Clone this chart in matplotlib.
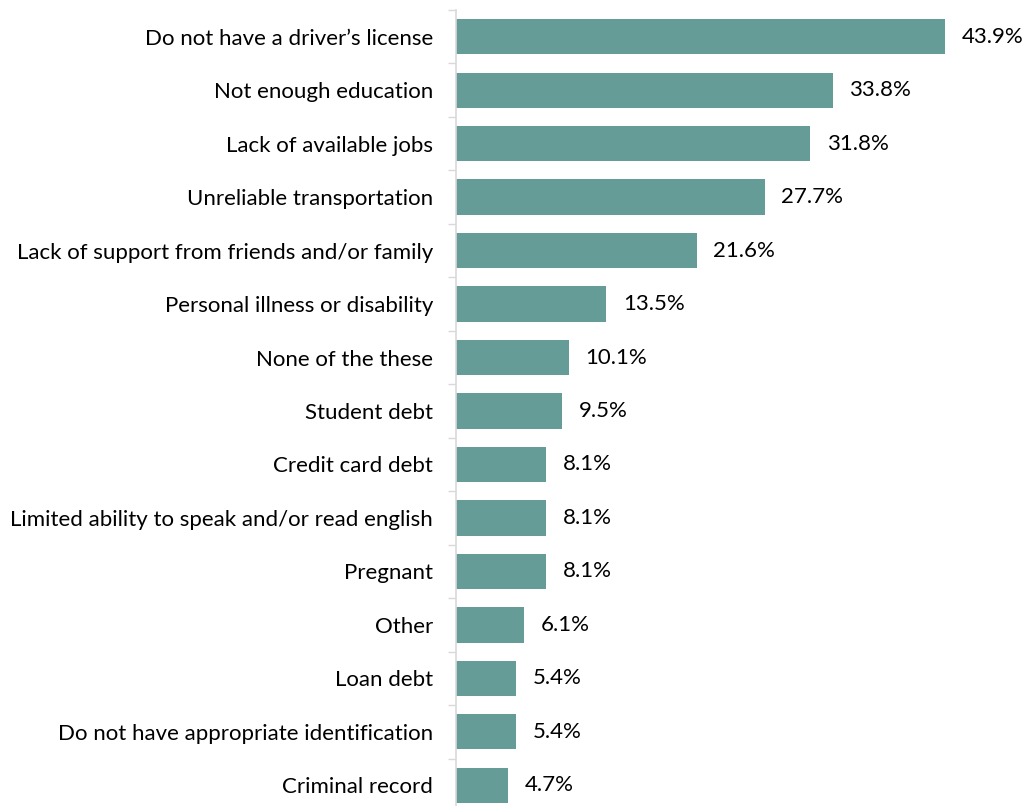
import matplotlib.pyplot as plt
import numpy as np

categories = [
    "Do not have a driver\u2019s license",
    "Not enough education",
    "Lack of available jobs",
    "Unreliable transportation",
    "Lack of support from friends and/or family",
    "Personal illness or disability",
    "None of the these",
    "Student debt",
    "Credit card debt",
    "Limited ability to speak and/or read english",
    "Pregnant",
    "Other",
    "Loan debt",
    "Do not have appropriate identification",
    "Criminal record",
]
values = [43.9, 33.8, 31.8, 27.7, 21.6, 13.5, 10.1, 9.5, 8.1, 8.1, 8.1, 6.1, 5.4, 5.4, 4.7]

plt.rcParams['font.family'] = ['Lato', 'DejaVu Sans']

fig = plt.figure(figsize=(10.23, 8.06), dpi=100)
ax = fig.add_axes([456 / 1023, -6 / 806, 557 / 1023, 802 / 806])

y = np.arange(len(categories))
ax.barh(y, values, height=0.66, color='#669c98')
ax.set_ylim(len(categories) - 0.5, -0.5)
ax.set_xlim(0, 50)

for yi, v in zip(y, values):
    ax.text(v + 1.5, yi, f"{v:.1f}%", va='center', ha='left', fontsize=16, color='black')

ax.set_yticks(y)
ax.set_yticklabels(categories, fontsize=16)
ax.tick_params(axis='y', which='major', length=0, pad=16.5)
ax.set_yticks(np.arange(-0.5, len(categories), 1), minor=True)
ax.tick_params(axis='y', which='minor', length=6, color='#d9d9d9', width=1)
ax.set_xticks([])

for s in ['top', 'right', 'bottom']:
    ax.spines[s].set_visible(False)
ax.spines['left'].set_color('#d9d9d9')
ax.spines['left'].set_linewidth(1.2)

fig.savefig('out.png', dpi=100)
